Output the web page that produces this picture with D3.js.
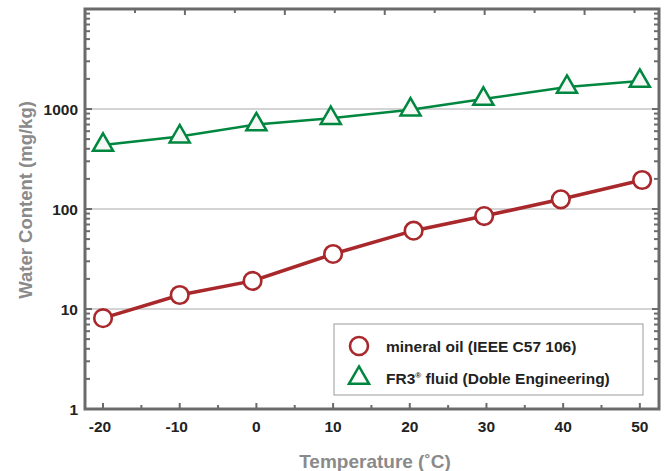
<!DOCTYPE html>
<html><head><meta charset="utf-8">
<script src="https://cdn.jsdelivr.net/npm/d3@7/dist/d3.min.js"></script>
<style>
body{margin:0;background:#fff;}
text{font-family:"Liberation Sans",Arial,Helvetica,sans-serif;}
</style></head>
<body><svg id="c" width="666" height="471"></svg>
<script>
// ---- data ----
const mineralTemps = [-20, -10, -0.5, 10, 20.5, 29.7, 39.7, 50.3];
const mineralValues = [8.1, 13.8, 19.1, 35.5, 60.7, 85, 125, 195];
const fr3Temps = [-20, -10, 0, 9.7, 20.1, 29.6, 40.5, 50];
const fr3Values = [437, 530, 700, 810, 985, 1260, 1660, 1905];
const xTicks = [-20, -10, 0, 10, 20, 30, 40, 50];
const xMinorTicks = [-15, -5, 5, 15, 25, 35, 45];
const yTicks = [1, 10, 100, 1000];
const yGrid = [10, 100, 1000];
const topTicks = [1, 2, 3, 4, 5, 6, 7, 8, 9, 10, 11];
const legendLabels = ["mineral oil (IEEE C57 106)", "FR3"];
const xTitle = "Temperature (\u02DAC)";
const yTitle = "Water Content (mg/kg)";

const svg = d3.select("#c");
const L = 85, R = 659, T = 9, B = 409;
const x = d3.scaleLinear().domain([-22.35, 52.5]).range([L, R]);
const y = d3.scaleLog().domain([1, 10000]).range([B, T]);
const xTop = d3.scaleLinear().domain([0, 11.49]).range([L, R]);
const frameCol = "#6b6b6b";
const red = "#a8282c", green = "#00873f";

// gridlines
svg.append("g").selectAll("line").data(yGrid).join("line")
  .attr("x1", L).attr("x2", R).attr("y1", d => y(d)).attr("y2", d => y(d))
  .attr("stroke", "#c6c6c6").attr("stroke-width", 1.5);

// minor y ticks
const yMinor = [];
for (let e = 0; e < 4; e++) for (let m = 2; m <= 9; m++) yMinor.push(m * Math.pow(10, e));
const tg = svg.append("g").attr("stroke", frameCol).attr("stroke-width", 2);
tg.selectAll(".yml").data(yMinor).join("line")
  .attr("x1", L).attr("x2", L + 5).attr("y1", d => y(d)).attr("y2", d => y(d));
tg.selectAll(".ymr").data(yMinor).join("line").attr("class","ymr")
  .attr("x1", R - 5).attr("x2", R).attr("y1", d => y(d)).attr("y2", d => y(d));
tg.selectAll(".yMl").data(yTicks.concat([10000])).join("line").attr("class","yMl")
  .attr("x1", L).attr("x2", L + 7).attr("y1", d => y(d)).attr("y2", d => y(d));
tg.selectAll(".yMr").data(yTicks.concat([10000])).join("line").attr("class","yMr")
  .attr("x1", R - 7).attr("x2", R).attr("y1", d => y(d)).attr("y2", d => y(d));
// x ticks bottom
tg.selectAll(".xM").data(xTicks).join("line").attr("class","xM")
  .attr("x1", d => x(d)).attr("x2", d => x(d)).attr("y1", B).attr("y2", B - 6);
tg.selectAll(".xm").data(xMinorTicks).join("line").attr("class","xm")
  .attr("x1", d => x(d)).attr("x2", d => x(d)).attr("y1", B).attr("y2", B - 4);
// top ticks
tg.selectAll(".xt").data(topTicks).join("line").attr("class","xt")
  .attr("x1", d => xTop(d)).attr("x2", d => xTop(d)).attr("y1", T).attr("y2", d => T + (d % 2 === 0 ? 6 : 4));

// frame
svg.append("rect").attr("x", L).attr("y", T).attr("width", R - L).attr("height", B - T)
  .attr("fill", "none").attr("stroke", frameCol).attr("stroke-width", 3);

// tick labels
svg.append("g").selectAll("text").data(xTicks).join("text")
  .attr("x", d => x(d) - (d < 0 ? 3 : 0)).attr("y", 432).attr("text-anchor", "middle")
  .attr("font-size", 15.5).attr("font-weight", "bold").attr("fill", "#222")
  .text(d => d < 0 ? "-" + Math.abs(d) : d);
svg.append("g").selectAll("text").data(yTicks).join("text")
  .attr("x", 78).attr("y", d => y(d) + 5.5).attr("text-anchor", "end")
  .attr("font-size", 15.5).attr("font-weight", "bold").attr("fill", "#222")
  .text(d => d);

// axis titles
svg.append("text").attr("x", 375).attr("y", 468).attr("text-anchor", "middle")
  .attr("font-size", 19).attr("font-weight", "bold").attr("fill", "#8a8a8a").text(xTitle);
svg.append("text").attr("transform", "translate(32,200) rotate(-90)").attr("text-anchor", "middle")
  .attr("font-size", 18.5).attr("font-weight", "bold").attr("fill", "#8a8a8a").text(yTitle);

// series
const mData = mineralTemps.map((t, i) => [t, mineralValues[i]]);
const fData = fr3Temps.map((t, i) => [t, fr3Values[i]]);
const line = d3.line().x(d => x(d[0])).y(d => y(d[1]));
svg.append("path").datum(fData).attr("d", line).attr("fill", "none").attr("stroke", green).attr("stroke-width", 2.5);
svg.append("path").datum(mData).attr("d", line).attr("fill", "none").attr("stroke", red).attr("stroke-width", 3.5);

const tri = d3.symbol().type(d3.symbolTriangle).size(175);
svg.append("g").selectAll("path").data(fData).join("path")
  .attr("transform", d => `translate(${x(d[0])},${y(d[1])})`).attr("d", tri())
  .attr("fill", "#f6f8f6").attr("stroke", green).attr("stroke-width", 2.5);
svg.append("g").selectAll("circle").data(mData).join("circle")
  .attr("cx", d => x(d[0])).attr("cy", d => y(d[1])).attr("r", 8.8)
  .attr("fill", "#fff").attr("stroke", red).attr("stroke-width", 2.6);

// legend
const lg = svg.append("g");
lg.append("rect").attr("x", 334).attr("y", 324).attr("width", 309).attr("height", 71)
  .attr("fill", "#fff").attr("stroke", "#9a9a9a").attr("stroke-width", 1);
lg.append("circle").attr("cx", 359).attr("cy", 346).attr("r", 9)
  .attr("fill", "#fff").attr("stroke", red).attr("stroke-width", 2.6);
lg.append("path").attr("transform", "translate(359,378)").attr("d", tri())
  .attr("fill", "#fff").attr("stroke", green).attr("stroke-width", 2.5);
lg.append("text").attr("x", 386).attr("y", 351.5).attr("font-size", 15.5).attr("font-weight", "bold")
  .attr("fill", "#222").text(legendLabels[0]);
const t2 = lg.append("text").attr("x", 386).attr("y", 383.5).attr("font-size", 15.5).attr("font-weight", "bold").attr("fill", "#222");
t2.append("tspan").text(legendLabels[1]);
t2.append("tspan").attr("font-size", 8).attr("dy", -6).text("\u00AE");
t2.append("tspan").attr("dy", 6).text(" fluid (Doble Engineering)");
</script></body></html>
